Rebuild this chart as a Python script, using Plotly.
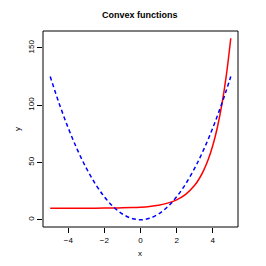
import plotly.graph_objects as go

x_vals = [-5, -4.5, -4, -3.5, -3, -2.5, -2, -1.5, -1, -0.5, 0, 0.5, 1, 1.5, 2, 2.5, 3, 3.25, 3.5, 3.75, 4, 4.25, 4.5, 4.75, 5]
red_vals = [10.01, 10.01, 10.02, 10.03, 10.05, 10.08, 10.14, 10.22, 10.37, 10.61, 11.0, 11.65, 12.72, 14.48, 17.39, 22.18, 30.09, 35.79, 43.12, 52.52, 64.6, 80.1, 100.0, 125.57, 158.41]
blue_vals = [125, 101.25, 80, 61.25, 45, 31.25, 20, 11.25, 5, 1.25, 0, 1.25, 5, 11.25, 20, 31.25, 45, 52.81, 61.25, 70.31, 80, 90.31, 101.25, 112.81, 125]
x_ticks = [-4, -2, 0, 2, 4]
y_ticks = [0, 50, 100, 150]

font = "Liberation Sans, Arial, sans-serif"

# page body has an 8px default margin; figure is sized so it fits the 266px window
OFF = 8
W = H = 250
L, T = 43 - OFF, 31 - OFF
R = W - (238 - OFF)
B = H - (227 - OFF)
pw = W - L - R
ph = H - T - B

def px_x(p):
    return (p - OFF - L) / pw

def px_y(p):
    return (T + ph - (p - OFF)) / ph

fig = go.Figure()
fig.add_trace(go.Scatter(x=x_vals, y=red_vals, mode="lines",
                         line=dict(color="#ff0000", width=1.5, shape="spline")))
fig.add_trace(go.Scatter(x=x_vals, y=blue_vals, mode="lines",
                         line=dict(color="#0000ff", width=1.5, dash="4px,3px", shape="spline")))

fig.update_layout(
    width=W, height=H,
    margin=dict(l=L, r=R, t=T, b=B, autoexpand=False),
    paper_bgcolor="white", plot_bgcolor="white",
    showlegend=False,
    font=dict(family=font, size=8, color="black"),
)
fig.update_xaxes(range=[-5.4, 5.4], tickvals=x_ticks, ticktext=["\u22124", "\u22122", "0", "2", "4"],
                 ticks="outside", ticklen=5, tickcolor="black", tickwidth=1,
                 showgrid=False, zeroline=False, showline=False, automargin=False,
                 tickfont=dict(size=8))
fig.update_yaxes(range=[-6.34, 164.75], tickvals=y_ticks, ticks="outside", ticklen=5,
                 tickcolor="black", tickwidth=1, tickangle=-90,
                 showgrid=False, zeroline=False, showline=False, automargin=False,
                 tickfont=dict(size=8))
fig.add_shape(type="rect", xref="paper", yref="paper", x0=0, y0=0, x1=1, y1=1,
              line=dict(color="black", width=1))

fig.add_annotation(text="<b>Convex functions</b>", xref="paper", yref="paper",
                   x=px_x(140), y=px_y(15), xanchor="center", yanchor="middle",
                   showarrow=False, font=dict(family=font, size=9, color="black"))
fig.add_annotation(text="x", xref="paper", yref="paper",
                   x=px_x(140), y=px_y(253), xanchor="center", yanchor="middle",
                   showarrow=False, font=dict(family=font, size=8, color="black"))
fig.add_annotation(text="y", xref="paper", yref="paper", textangle=-90,
                   x=px_x(17), y=px_y(129), xanchor="center", yanchor="middle",
                   showarrow=False, font=dict(family=font, size=8, color="black"))
fig.write_html("out.html")
